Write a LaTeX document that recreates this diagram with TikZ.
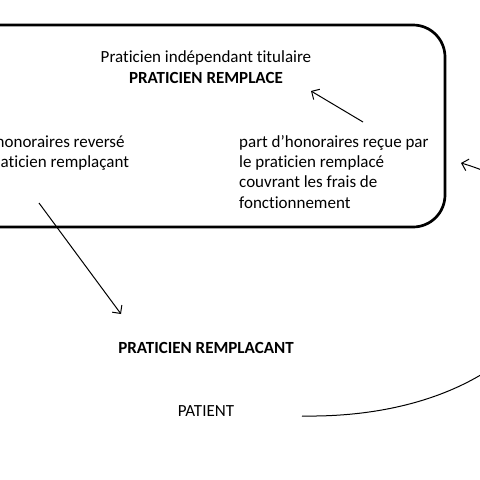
\documentclass[tikz,border=0pt]{standalone}
\usepackage{fontspec}
\setmainfont{Carlito}[Ligatures=NoCommon]
\usetikzlibrary{positioning,arrows.meta}

\begin{document}
\begin{tikzpicture}[x=1pt, y=-1pt,
  txt/.style={inner sep=0pt, font=\fontsize{17}{20.4}\selectfont},
  flow/.style={-{Straight Barb[length=6pt,width=12pt]}, line width=1pt}]
\useasboundingbox (0,0) rectangle (480,480);
% cabinet du praticien remplace
\node[draw, line width=2.7pt, rounded corners=32pt, minimum width=545pt, minimum height=202pt, inner sep=0pt] (cabinet) at (172.5,126) {};
\node[txt, align=center] (titulaire) at (206,67) {Praticien indépendant titulaire\\\textbf{PRATICIEN REMPLACE}};
\node[txt, align=left, anchor=north west] (reversee) at (-4.5,135) {honoraires reversé\\\hspace*{5pt}aticien remplaçant};
\node[txt, align=left, anchor=north west] (recue) at (239,135) {part d’honoraires reçue par\\le praticien remplacé\\couvrant les frais de\\fonctionnement};
% en dehors du cabinet
\node[txt] (remplacant) at (206,348) {\textbf{PRATICIEN REMPLACANT}};
\node[txt] (patient) at (206,411) {PATIENT};
\coordinate (versdepart) at (39,203);
\coordinate (versfin) at (121,314);
\coordinate (recuedepart) at (363,122);
\coordinate (recuefin) at (311,91);
\coordinate (patientdepart) at (302,416);
\coordinate (retour) at (461,163);
\draw[flow] (versdepart) -- (versfin);
\draw[flow] (recuedepart) -- (recuefin);
\draw[flow] (patientdepart) .. controls (560,420) and (640,215) .. (retour);
\end{tikzpicture}
\end{document}
